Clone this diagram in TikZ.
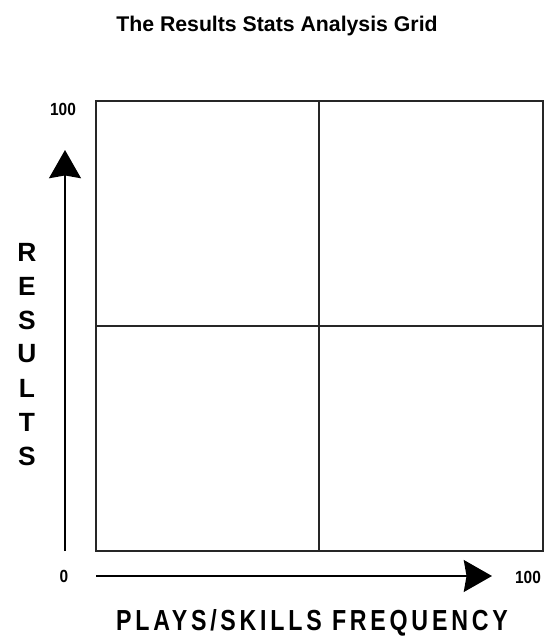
\documentclass[tikz,border=0pt]{standalone}
\usepackage{fontspec}
\setmainfont{Liberation Sans}
\newfontfamily\narrowfont[FakeStretch=0.8, LetterSpace=13]{Liberation Sans}
\newfontfamily\tickfont[FakeStretch=0.88]{Liberation Sans}
\usetikzlibrary{arrows.meta,positioning}

\begin{document}
\begin{tikzpicture}[
  x=0.02cm, y=-0.02cm,
  gridline/.style={line width=0.7pt, draw=black!85},
  axisarrow/.style={-{Stealth[length=16pt, width=18pt, inset=1.5pt]}, line width=1.7pt},
  ticklabel/.style={font=\tickfont\bfseries\fontsize{10}{12}\selectfont, inner sep=0pt},
  axislabel/.style={font=\narrowfont\bfseries\fontsize{16.5}{19}\selectfont, inner sep=0pt},
  letter/.style={font=\bfseries\fontsize{15}{17}\selectfont, inner sep=0pt},
]
\useasboundingbox (0,0) rectangle (554,638);

\node[font=\bfseries\fontsize{12.1}{14}\selectfont] (title) at (277,26) {The Results Stats Analysis Grid};

% the grid
\coordinate (nw) at (96,101);
\coordinate (se) at (543,551);
\coordinate (mid) at (319,326);
\draw[gridline] (nw) rectangle (se);
\draw[gridline] (nw -| mid) -- (se -| mid);
\draw[gridline] (nw |- mid) -- (se |- mid);

% axes
\coordinate (ybase) at (65,551);
\coordinate (ytip) at (65,150);
\coordinate (xbase) at (96,576);
\coordinate (xtip) at (492,576);
\draw[axisarrow] (ybase) -- (ytip);
\draw[axisarrow] (xbase) -- (xtip);

\node[ticklabel] (ymax) at (63,109) {100};
\node[ticklabel] (origin) at (64,576) {0};
\node[ticklabel] (xmax) at (528,577) {100};

\node[axislabel] (xname) at (312,623) {PLAYS/SKILLS FREQUENCY};

\foreach \ch [count=\i] in {R,E,S,U,L,T,S} {
  \node[letter] (res\i) at (27,{252+(\i-1)*34}) {\ch};
}
\end{tikzpicture}
\end{document}
